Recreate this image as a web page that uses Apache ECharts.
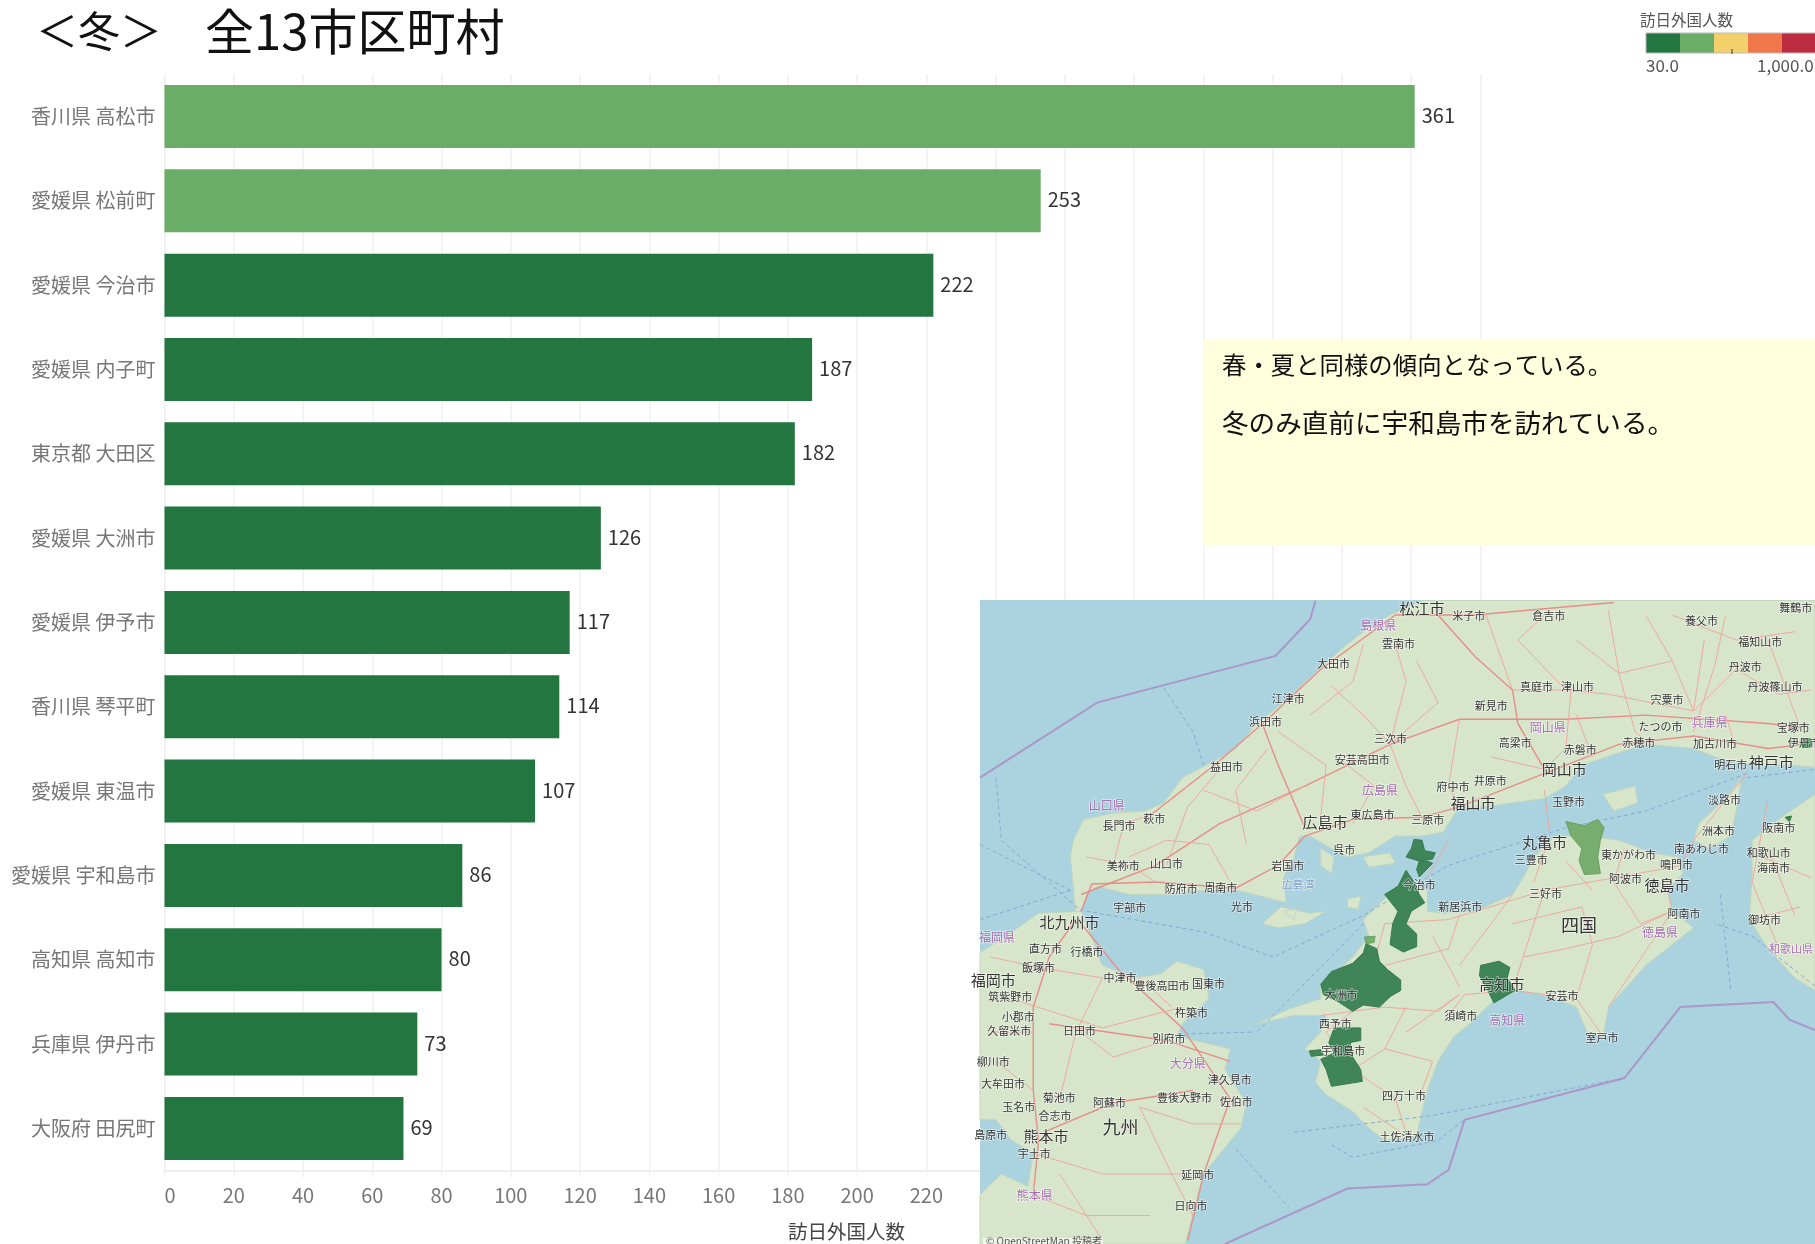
<!DOCTYPE html>
<html><head><meta charset="utf-8">
<script src="https://cdn.jsdelivr.net/npm/echarts@6/dist/echarts.min.js"></script>
<style>html,body{margin:0;padding:0;background:#fff;overflow:hidden}#c{width:1815px;height:1244px}</style>
</head><body><div id="c"></div>
<script>
const categories = ['香川県 高松市','愛媛県 松前町','愛媛県 今治市','愛媛県 内子町','東京都 大田区','愛媛県 大洲市','愛媛県 伊予市','香川県 琴平町','愛媛県 東温市','愛媛県 宇和島市','高知県 高知市','兵庫県 伊丹市','大阪府 田尻町'];
const visitors = [361,253,222,187,182,126,117,114,107,86,80,73,69];
const legendColors = ['#23763f','#6aad66','#f3d06a','#f0774a','#bd2b40'];
const FONT = '"Noto Sans CJK JP","Noto Sans",sans-serif';
const colorFor = v => v > 230 ? legendColors[1] : legendColors[0];

// Inset base-map outlines (map panel coordinates 0..1568)
const land = [
 [[180,780],[170,640],[175,600],[195,550],[250,535],[310,530],[345,510],[380,450],[440,410],[480,380],[520,320],[570,270],[620,210],[680,140],[720,100],[770,60],[830,25],[1568,25],[1568,425],[1520,420],[1470,420],[1400,410],[1340,380],[1250,370],[1200,390],[1130,420],[1100,470],[1060,500],[1000,510],[950,520],[900,520],[870,580],[830,590],[780,590],[730,630],[690,640],[660,620],[620,590],[600,590],[590,640],[570,690],[575,750],[500,725],[480,720],[420,720],[350,730],[280,730],[220,710],[200,730],[190,770]],
 [[1430,450],[1400,500],[1350,560],[1340,600],[1370,620],[1410,590],[1420,530]],
 [[1170,490],[1230,470],[1235,510],[1190,530]],
 [[1568,490],[1510,540],[1450,600],[1450,680],[1445,790],[1480,860],[1530,930],[1568,960]],
 [[520,1040],[580,1005],[640,980],[640,950],[700,880],[730,830],[720,790],[760,740],[800,700],[840,720],[840,770],[870,775],[930,770],[1000,730],[1020,690],[1040,640],[1080,590],[1140,590],[1200,600],[1260,630],[1310,640],[1320,680],[1290,720],[1300,770],[1340,810],[1300,850],[1250,900],[1180,1000],[1170,1070],[1140,1060],[1120,1000],[1060,970],[1010,960],[960,990],[920,1040],[890,1070],[860,1130],[840,1200],[830,1250],[820,1310],[760,1320],[730,1290],[700,1250],[650,1210],[630,1180],[640,1130],[610,1100],[640,1060],[650,1020],[590,1020]],
 [[0,870],[60,820],[110,775],[190,770],[200,800],[230,900],[290,930],[340,920],[370,890],[420,910],[430,980],[380,1040],[370,1070],[470,1100],[460,1150],[500,1230],[490,1290],[420,1400],[385,1568],[0,1568],[0,1450],[40,1400],[90,1430],[100,1350],[60,1320],[30,1270],[0,1270]],
 [[565,760],[620,775],[650,770],[610,800],[560,810],[530,800]],
 [[640,620],[665,640],[660,680],[640,660]],
 [[720,640],[770,630],[780,655],[730,665]],
 [[690,740],[715,735],[710,765],[690,760]],
 [[570,770],[595,765],[590,790]]
];
const roads = [
 [[190,770],[210,705],[330,700],[480,715],[560,660],[610,590],[700,550],[830,545],[900,520],[1040,450],[1200,370],[1340,350],[1480,380],[1550,370]],
 [[190,730],[330,660],[450,560],[610,470],[770,370],[900,310],[1100,310],[1250,300],[1480,320],[1540,330]],
 [[320,540],[440,420],[540,310],[640,190],[780,60],[930,60],[1190,30]],
 [[860,60],[930,160],[1000,240],[1010,320],[1060,430]],
 [[610,570],[560,420],[530,320]],
 [[180,790],[130,880],[100,1000],[100,1200],[110,1320],[100,1450]],
 [[130,1040],[350,1080],[470,1130]],
 [[190,800],[260,910],[380,1050],[470,1220],[420,1400],[390,1560]],
 [[120,1300],[250,1230],[400,1200]],
 [[1320,660],[1060,720],[880,790],[760,800],[720,990],[650,1060],[700,1150],[760,1100],[850,1130]],
 [[1060,720],[1020,880],[1000,960],[910,970],[880,1020]],
 [[1000,960],[1120,980],[1170,1070]],
 [[1290,700],[1300,770],[1180,1000]],
 [[1070,590],[1040,700]],[[1060,480],[1070,590]],[[880,600],[840,690]],
 [[1440,440],[1340,600],[1320,650]],
 [[1480,500],[1450,700],[1500,860]],
 [[1400,60],[1380,180],[1340,340]],[[1480,120],[1540,330]],
 [[770,370],[800,220],[780,130]],[[1180,50],[1200,200],[1230,340]],
 [[1100,240],[1180,250],[1340,290],[1360,120]],[[680,410],[740,470],[700,560]],
 [[350,660],[390,520],[450,430]],[[250,660],[270,560],[320,540]],
 [[500,610],[480,480],[540,380]],[[900,310],[880,470],[900,520]],
 [[1060,430],[1100,380],[1110,240]],[[950,60],[1000,240],[1100,240]],
 [[60,980],[230,1050],[380,1000]],[[230,930],[180,1060],[150,1220]],
 [[300,1240],[360,1400],[400,1500]],[[100,1350],[230,1400],[380,1400]],
 [[700,1150],[780,1220],[800,1300]],[[850,830],[900,950]],[[1130,760],[1150,850],[1120,980]],
 [[1190,700],[1240,800],[1300,770]],[[760,1000],[860,1010],[900,970]],
 [[1480,620],[1530,780]],[[1250,60],[1300,170],[1340,290]],
 [[660,230],[720,300],[770,370]],[[720,130],[700,220],[620,300]],[[820,170],[860,270],[770,370]],
 [[560,340],[650,420],[640,540]],[[770,370],[800,470],[830,545]],[[420,480],[520,530],[610,470]],
 [[280,640],[350,600],[430,610]],[[430,610],[470,700]],[[200,640],[280,660],[330,700]],
 [[1010,120],[1060,60]],[[1010,120],[1100,240]],[[1120,120],[1200,200],[1300,170]],[[1300,60],[1420,120],[1530,100]],
 [[1420,190],[1340,290]],[[1420,190],[1500,250],[1560,240]],[[960,400],[1060,430]],[[1120,300],[1150,400]],[[1230,340],[1260,370]],
 [[1400,300],[1420,380]],[[900,900],[960,800],[1000,730]],[[900,780],[880,860],[760,900]],[[1020,880],[1100,860],[1200,830],[1300,770]],
 [[1100,650],[1150,720]],[[1210,620],[1190,700]],[[1000,800],[1130,760]],[[800,1060],[900,970]],[[760,1100],[800,1000]],
 [[640,1020],[760,1000]],[[850,1130],[830,1200]],[[720,1240],[790,1300]],[[20,880],[110,905],[230,930]],[[20,1060],[100,1060]],
 [[30,1130],[100,1200]],[[190,1060],[250,1120],[350,1080]],[[300,1240],[400,1280],[490,1280]],[[100,1450],[200,1500],[320,1500]],
 [[150,1400],[230,1560]],[[300,930],[360,1000]],[[1470,640],[1560,690]],[[1450,790],[1540,760]]
];
const seaDashed = [
 [[1440,440],[1250,530],[1100,570],[880,660],[720,780],[550,880],[420,820],[200,770]],
 [[1440,450],[1568,430]],[[510,1060],[370,1065]],[[720,800],[520,1060]],
 [[345,235],[400,340],[420,420]],[[30,450],[40,600],[190,770]],[[0,610],[170,720]],[[0,790],[170,720]],
 [[480,1340],[580,1480]],[[590,1300],[850,1260],[1210,1170]],[[660,1330],[700,1360],[860,1320],[910,1270]],
 [[1390,730],[1410,960]],[[1568,950],[1450,830],[1380,800]]
];
const purpleLines = [
 [[0,450],[220,270],[555,158],[620,70],[630,25]],
 [[460,1568],[690,1435],[840,1425],[880,1390],[910,1270],[1210,1170],[1315,1000],[1490,988],[1520,1030],[1568,1055]]
];
// Municipality outlines on the map: [visitor value, outline]
const municipalities = [
 [222,[[815,598],[830,600],[835,625],[855,630],[850,645],[825,650],[800,640],[810,620]]],
 [222,[[825,650],[840,650],[850,655],[825,688],[820,670]]],
 [222,[[800,672],[815,700],[825,730],[835,750],[810,770],[800,800],[820,825],[820,855],[795,868],[770,850],[775,800],[785,770],[760,730],[785,710]]],
 [126,[[725,848],[745,860],[750,890],[765,910],[790,935],[790,960],[770,975],[750,1000],[720,995],[700,1010],[670,985],[645,970],[640,945],[660,915],[700,895],[720,870]]],
 [253,[[722,832],[742,830],[740,845],[725,848]]],
 [86,[[665,1050],[715,1050],[715,1080],[695,1085],[700,1120],[715,1150],[718,1178],[660,1190],[650,1150],[640,1125],[665,1110],[655,1085]]],
 [86,[[618,1105],[640,1102],[645,1115],[622,1118]]],
 [80,[[940,900],[975,890],[995,905],[990,930],[1005,960],[965,990],[950,950],[938,925]]],
 [361,[[1100,555],[1135,565],[1160,550],[1172,570],[1165,600],[1160,640],[1165,680],[1135,682],[1125,650],[1130,620],[1110,590]]],
 [73,[[1542,358],[1560,356],[1562,376],[1545,378]]],
 [69,[[1512,545],[1524,542],[1520,556]]]
];
// [text, x, y, size, colour]
const K='#333', P='#a56fb0';
const mapLabels = [
 ['松江市',830,45,15,K],['米子市',918,62,11,K],['倉吉市',1068,62,11,K],['舞鶴市',1532,42,11,K],['養父市',1355,74,11,K],['福知山市',1465,124,11,K],['丹波市',1437,183,11,K],['丹波篠山市',1493,231,11,K],
 ['島根県',748,84,12,P],['雲南市',786,129,11,K],['大田市',664,176,11,K],['江津市',579,261,11,K],['浜田市',536,315,11,K],['真庭市',1045,231,11,K],['津山市',1122,233,11,K],['新見市',960,278,11,K],['宍粟市',1290,264,11,K],
 ['岡山県',1066,329,12,P],['兵庫県',1370,318,12,P],['たつの市',1278,327,11,K],['宝塚市',1527,330,11,K],['三次市',771,357,11,K],['高梁市',1005,367,11,K],['赤磐市',1127,383,11,K],['赤穂市',1237,367,11,K],['加古川市',1380,369,11,K],['伊丹市',1548,367,11,K],
 ['益田市',463,423,11,K],['安芸高田市',718,408,11,K],['岡山市',1097,431,15,K],['明石市',1410,418,11,K],['神戸市',1486,414,15,K],['府中市',888,471,11,K],['井原市',958,458,11,K],['広島県',751,480,12,P],['山口県',238,516,12,P],['福山市',926,512,15,K],['玉野市',1105,508,11,K],['淡路市',1398,503,11,K],
 ['萩市',327,548,11,K],['東広島市',737,538,11,K],['三原市',841,552,11,K],['広島市',648,557,15,K],['長門市',261,565,11,K],['丸亀市',1060,604,15,K],['洲本市',1387,577,11,K],['阪南市',1500,570,11,K],['南あわじ市',1355,620,11,K],['和歌山市',1481,630,11,K],['東かがわ市',1218,635,11,K],['呉市',684,622,11,K],
 ['三豊市',1035,646,11,K],['鳴門市',1308,659,11,K],['美祢市',269,662,11,K],['山口市',350,657,11,K],['岩国市',578,662,11,K],['海南市',1490,667,11,K],['阿波市',1212,692,11,K],['徳島市',1290,708,15,K],['防府市',378,716,11,K],['周南市',452,715,11,K],['広島湾',597,706,11,'#7f9fc8'],['三好市',1062,728,11,K],['今治市',825,708,11,K],
 ['宇部市',281,763,11,K],['光市',492,759,11,K],['新居浜市',902,760,11,K],['阿南市',1322,776,11,K],['御坊市',1473,791,11,K],['北九州市',168,796,15,K],['四国',1125,804,18,K],['徳島県',1277,822,12,P],['福岡県',32,833,12,P],['和歌山県',1523,860,11,P],
 ['直方市',123,860,11,K],['行橋市',201,867,11,K],['飯塚市',110,905,11,K],['中津市',263,929,11,K],['福岡市',25,935,15,K],['国東市',429,944,11,K],['豊後高田市',342,948,11,K],['高知市',980,945,15,K],['大洲市',678,970,11,K],['筑紫野市',57,975,11,K],['安芸市',1093,973,11,K],
 ['杵築市',397,1013,11,K],['小郡市',72,1023,11,K],['須崎市',903,1021,11,K],['高知県',990,1031,12,P],['西予市',667,1040,11,K],['久留米市',55,1058,11,K],['日田市',187,1058,11,K],['別府市',355,1076,11,K],['室戸市',1168,1073,11,K],['宇和島市',682,1104,11,K],
 ['大分県',390,1136,12,P],['柳川市',25,1132,11,K],['津久見市',469,1174,11,K],['大牟田市',43,1185,11,K],['四万十市',796,1212,11,K],['菊池市',149,1217,11,K],['豊後大野市',384,1218,11,K],['佐伯市',481,1226,11,K],['阿蘇市',243,1230,11,K],['玉名市',73,1238,11,K],['合志市',141,1261,11,K],
 ['九州',264,1287,18,K],['島原市',20,1306,11,K],['熊本市',124,1309,15,K],['土佐清水市',802,1310,11,K],['宇土市',102,1352,11,K],['延岡市',409,1403,11,K],['熊本県',103,1452,12,P],['日向市',396,1476,11,K]
];

const mx = x => 980 + x * 835 / 1568;
const my = y => 590 + y * 654 / 1568;
const pts = a => a.map(p => [mx(p[0]), my(p[1])]);
const Z = 50;
const g = [];
// map panel
g.push({type:'rect',z:Z,shape:{x:980,y:600,width:835,height:644},style:{fill:'#aad3df'}});
land.forEach(a=>g.push({type:'polygon',z:Z,shape:{points:pts(a)},style:{fill:'#d7e6ca',stroke:'#c3d6bd',lineWidth:1}}));
seaDashed.forEach(a=>g.push({type:'polyline',z:Z,shape:{points:pts(a)},style:{fill:null,stroke:'#86a9d4',lineWidth:1,lineDash:[4,3]}}));
roads.forEach((a,i)=>g.push({type:'polyline',z:Z,shape:{points:pts(a)},style:{fill:null,stroke:i<9?'#e58d88':'#eda9a0',lineWidth:i<9?1.4:1}}));
purpleLines.forEach(a=>g.push({type:'polyline',z:Z,shape:{points:pts(a)},style:{fill:null,stroke:'#ab97c9',lineWidth:2}}));
municipalities.forEach(m=>g.push({type:'polygon',z:Z,shape:{points:pts(m[1])},style:{fill:m[0]>230?'#77ae6d':'#3f8558',stroke:m[0]>230?'#6aa065':'#347a4c',lineWidth:1}}));
mapLabels.forEach(l=>g.push({type:'text',z:Z,style:{text:l[0],x:mx(l[1]),y:my(l[2]),fill:l[4],font:l[3]+'px '+FONT,align:'center',verticalAlign:'middle',stroke:'rgba(255,255,255,.55)',lineWidth:1.5}}));
g.push({type:'rect',z:Z,shape:{x:983,y:1238,width:120,height:6},style:{fill:'rgba(255,255,255,.6)'}});
g.push({type:'text',z:Z,style:{text:'© OpenStreetMap 投稿者',x:986,y:1241,fill:'#555',font:'10px '+FONT,verticalAlign:'middle'}});
// note box
g.push({type:'rect',z:Z,shape:{x:1203.5,y:340,width:612,height:206},style:{fill:'rgba(255,255,218,.9)'}});
g.push({type:'text',z:Z,style:{text:'春・夏と同様の傾向となっている。',x:1222,y:365,fill:'#111',font:'24.4px '+FONT,verticalAlign:'middle'}});
g.push({type:'text',z:Z,style:{text:'冬のみ直前に宇和島市を訪れている。',x:1222,y:423,fill:'#111',font:'26.6px '+FONT,verticalAlign:'middle'}});
// title
g.push({type:'text',z:Z,style:{text:'＜冬＞',x:36,y:31,fill:'#111',font:'42px '+FONT,verticalAlign:'middle'}});
g.push({type:'text',z:Z,style:{text:'全13市区町村',x:205,y:31,fill:'#111',font:'49px '+FONT,verticalAlign:'middle'}});
// colour legend
g.push({type:'text',z:Z,style:{text:'訪日外国人数',x:1640,y:20,fill:'#555',font:'15.5px '+FONT,verticalAlign:'middle'}});
legendColors.forEach((c,i)=>g.push({type:'rect',z:Z,shape:{x:1646+i*34,y:33,width:34,height:20},style:{fill:c}}));
g.push({type:'rect',z:Z,shape:{x:1646,y:33,width:170,height:20},style:{fill:null,stroke:'#bbb',lineWidth:1}});
g.push({type:'line',z:Z,shape:{x1:1732,y1:49,x2:1732,y2:54},style:{stroke:'#333',lineWidth:1}});
g.push({type:'text',z:Z,style:{text:'30.0',x:1646,y:66,fill:'#555',font:'17px '+FONT,verticalAlign:'middle'}});
g.push({type:'text',z:Z,style:{text:'1,000.0',x:1757,y:66,fill:'#555',font:'17px '+FONT,verticalAlign:'middle'}});

const chart = echarts.init(document.getElementById('c'),null,{renderer:'canvas'});
chart.setOption({
 animation:false,
 textStyle:{fontFamily:FONT},
 grid:{left:164.5,top:74.3,width:1316,height:1096.3,containLabel:false,outerBoundsMode:'none'},
 xAxis:{type:'value',min:0,max:380,interval:20,
  name:'訪日外国人数',nameLocation:'middle',nameGap:51,
  nameTextStyle:{fontSize:19.5,color:'#444',fontFamily:FONT,padding:[0,0,0,48]},
  axisLine:{show:true,lineStyle:{color:'#eeeeee',width:2}},
  axisTick:{show:true,length:7,lineStyle:{color:'#eeeeee'}},
  axisLabel:{fontSize:20,color:'#777',margin:15,fontFamily:FONT,alignMinLabel:'left'},
  splitLine:{show:true,lineStyle:{color:'#f1f1f1',width:1.5}}},
 yAxis:{type:'category',inverse:true,data:categories,
  axisLine:{show:true,lineStyle:{color:'#f1f1f1'}},axisTick:{show:false},
  axisLabel:{fontSize:20,color:'#777',margin:9,fontFamily:FONT},splitLine:{show:false}},
 series:[{type:'bar',barWidth:63,
  data:visitors.map(v=>({value:v,itemStyle:{color:colorFor(v)}})),
  label:{show:true,position:'right',distance:7,offset:[0,-1],fontSize:20,color:'#333',fontFamily:FONT}}],
 graphic:{elements:g}
});
</script></body></html>
